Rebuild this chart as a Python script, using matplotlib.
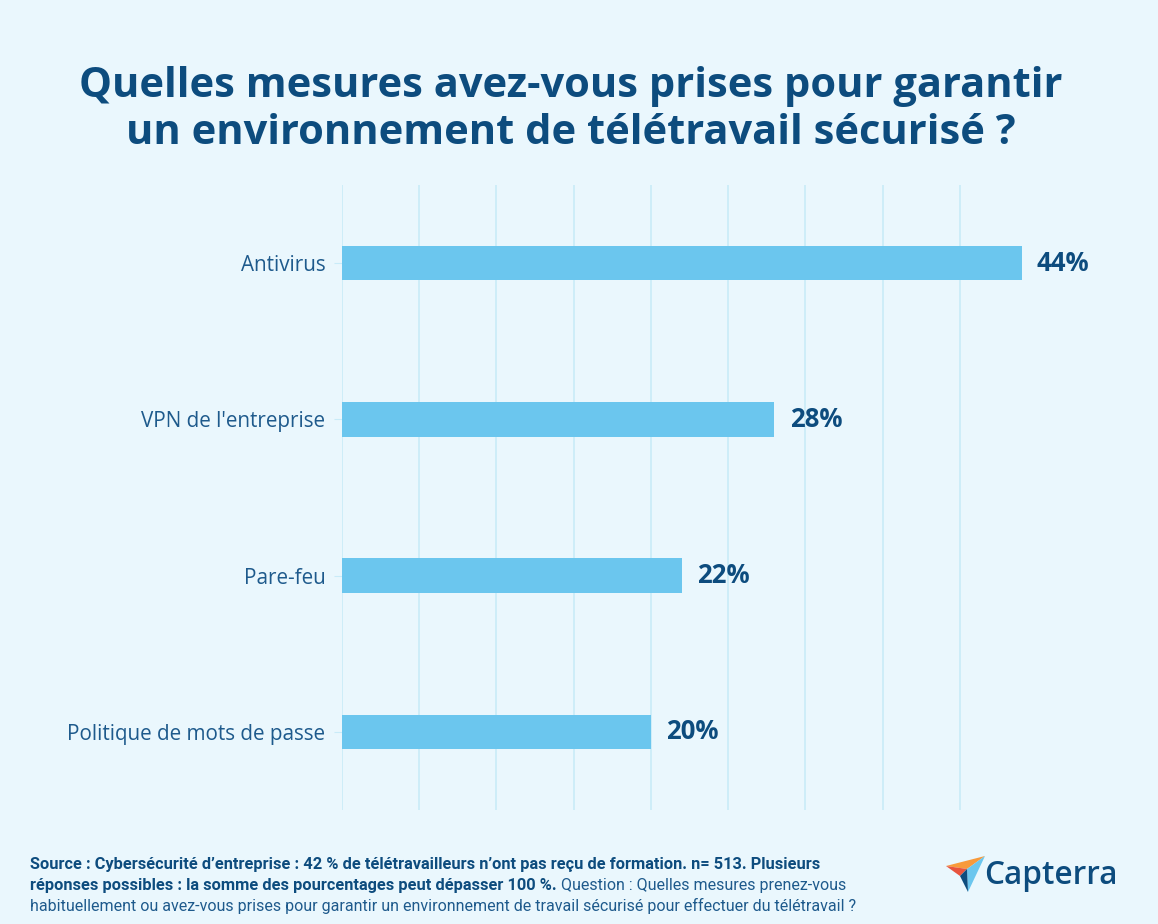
import matplotlib
matplotlib.use("Agg")
import matplotlib.pyplot as plt
from matplotlib.patches import Polygon

categories = ["Antivirus", "VPN de l'entreprise", "Pare-feu", "Politique de mots de passe"]
values = [44, 28, 22, 20]
value_labels = ["44%", "28%", "22%", "20%"]

title = "Quelles mesures avez-vous prises pour garantir\nun environnement de télétravail sécurisé ?"
src_bold_1 = "Source : Cybersécurité d’entreprise : 42 % de télétravailleurs n’ont pas reçu de formation. n= 513. Plusieurs"
src_bold_2 = "réponses possibles : la somme des pourcentages peut dépasser 100 %."
src_reg_2 = " Question : Quelles mesures prenez-vous"
src_reg_3 = "habituellement ou avez-vous prises pour garantir un environnement de travail sécurisé pour effectuer du télétravail ?"

BG = "#EAF7FD"
BAR = "#6BC6EE"
DARK = "#0D4C7E"
LABEL = "#1E5A8C"
GRID = "#C9EBF8"

W, H = 1158, 924
fig = plt.figure(figsize=(W / 100, H / 100), dpi=100, facecolor=BG)

ax = fig.add_axes([342 / W, 1 - 810 / H, 695 / W, 625 / H])
ax.set_facecolor(BG)
y = list(range(len(categories)))
ax.barh(y, values, height=0.22, color=BAR, zorder=3)
ax.set_xlim(0, 45)
ax.set_ylim(3.5, -0.5)
ax.set_xticks(range(0, 45, 5))
ax.set_xticklabels([])
ax.tick_params(axis="x", length=0)
ax.grid(axis="x", color=GRID, linewidth=1.2, zorder=0)
ax.set_yticks(y)
ax.set_yticklabels(categories, fontsize=14.9, color=LABEL, family=["Open Sans", "DejaVu Sans"])
ax.tick_params(axis="y", length=5.5, color=GRID, pad=6.5)
for s in ax.spines.values():
    s.set_visible(False)
for yi, v, lab in zip(y, values, value_labels):
    ax.annotate(lab, (v, yi), xytext=(11, 0), textcoords="offset points", va="center", ha="left",
                fontsize=18.5, fontweight="bold", color=DARK, family=["Open Sans", "DejaVu Sans"])

fig.text(571 / W, 1 - 110 / H, title, ha="center", va="center", fontsize=30, fontweight="bold",
         color=DARK, linespacing=1.17, family=["Open Sans", "DejaVu Sans"])

ffam = ["Liberation Sans Narrow", "Roboto", "DejaVu Sans"]
fsb = 11.8
fsr = 11.5
t1 = fig.text(30 / W, 1 - 869 / H, src_bold_1, ha="left", va="baseline", fontsize=fsb, fontweight="bold",
              color=DARK, family=ffam)
t2 = fig.text(30 / W, 1 - 890 / H, src_bold_2, ha="left", va="baseline", fontsize=fsb, fontweight="bold",
              color=DARK, family=ffam)
fig.text(30 / W, 1 - 911 / H, src_reg_3, ha="left", va="baseline", fontsize=fsr, color=LABEL, family=ffam)
ann = plt.annotate(src_reg_2, xy=(1, 0), xycoords=t2, ha="left", va="bottom", fontsize=fsr, color=LABEL,
                   family=ffam, annotation_clip=False)

# Capterra logo
def fx(px):
    return px / W

def fy(py):
    return 1 - py / H

icon = [
    ([(946, 866), (985, 856), (967, 869)], "#F89A3B"),
    ([(946, 866), (967, 869), (960, 876)], "#E8543E"),
    ([(985, 856), (967, 869), (968, 892)], "#6BC6EE"),
    ([(967, 869), (960, 876), (968, 892)], "#0D4C7E"),
]
for pts, col in icon:
    fig.add_artist(Polygon([(fx(a), fy(b)) for a, b in pts], closed=True, transform=fig.transFigure,
                           facecolor=col, edgecolor="none"))
fig.text(fx(984), fy(875), "Capterra", ha="left", va="center", fontsize=22.7, fontweight="semibold",
         color=DARK, family=["Open Sans", "DejaVu Sans"])

fig.savefig("out.png", dpi=100, facecolor=BG)
